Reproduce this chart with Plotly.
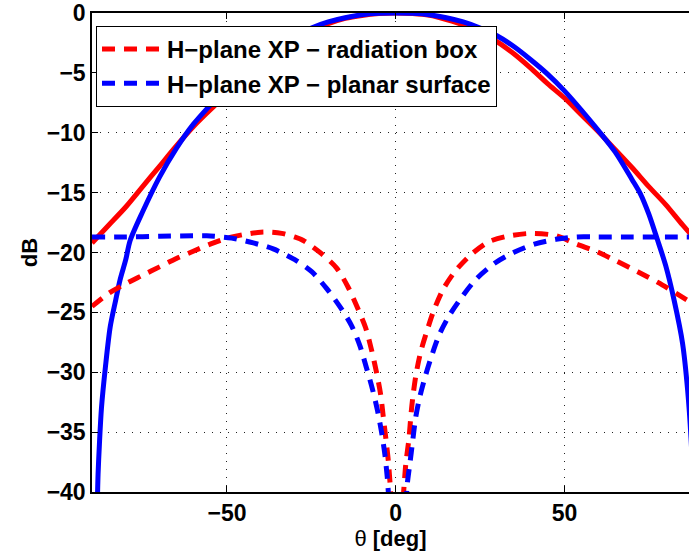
import plotly.graph_objects as go

# Co-polar H-plane cuts (solid lines)
theta_co_box = [-90, -85, -80, -75, -70, -65, -60, -55, -50, -45, -40, -35, -30, -25,
                -20, -15, -10, -5, 0, 5, 10, 15, 20, 25, 30, 35, 40, 45, 50, 55, 60,
                65, 70, 75, 80, 85, 90]
db_co_box = [-19.2, -17.7, -16.2, -14.5, -12.8, -11.1, -9.5, -8.1, -6.8, -5.6, -4.4,
             -3.3, -2.3, -1.5, -0.9, -0.45, -0.2, -0.05, 0.0, -0.05, -0.2, -0.55, -1.0,
             -1.7, -2.4, -3.4, -4.6, -5.9, -7.1, -8.5, -9.9, -11.4, -12.9, -14.5, -16.0,
             -17.7, -19.3]

theta_co_planar = [-88.5, -88.2, -87.8, -87.2, -86, -84.6, -83, -81.7, -80, -78.7, -75,
                   -70, -65, -60, -55, -50, -45, -40, -35, -30, -25, -20, -15, -10, -5,
                   0, 5, 10, 15, 20, 25, 30, 35, 40, 45, 50, 55, 60, 65, 70, 72.5, 75,
                   77.5, 80, 82.5, 85, 86.5, 87.5, 88.5]
db_co_planar = [-42, -38.5, -36, -33, -29.5, -26.2, -24, -22.3, -20.6, -19.0, -16.6,
                -13.7, -11.3, -9.3, -7.7, -6.2, -4.9, -3.7, -2.7, -1.9, -1.25, -0.75,
                -0.4, -0.15, -0.03, 0.0, -0.03, -0.15, -0.4, -0.75, -1.25, -1.9, -2.8,
                -3.9, -5.1, -6.5, -8.1, -9.8, -11.6, -13.9, -15.1, -16.8, -18.9, -21.1,
                -24.0, -27.6, -31.5, -35.5, -42]

# Cross-polar H-plane cuts (dashed lines)
theta_xp_box = [-90, -85, -80, -75, -70, -65, -60, -55, -50, -45, -40, -37, -33.8, -30,
                -27.4, -22, -17.5, -14.1, -11.2, -8.9, -7.2, -5.7, -4.5, -3.7, -2.9,
                -2.2, -1.7, -1.3, 0.4, 2.1, 2.5, 3.0, 3.9, 4.6, 5.1, 6.0, 7.4, 9.2, 11.2,
                14, 17.5, 22.2, 27.6, 33.8, 40.5, 47.5, 53.5, 59.4, 65.3, 71.7, 77.7,
                83.6, 90]
db_xp_box = [-24.5, -23.4, -22.6, -21.9, -21.2, -20.5, -19.9, -19.3, -18.8, -18.5, -18.3,
             -18.3, -18.4, -18.7, -19.0, -20.1, -21.3, -22.9, -24.7, -26.3, -28.1, -30.0,
             -31.8, -33.7, -35.6, -37.4, -39.2, -41.0, -55.0, -41.0, -39.4, -37.6, -35.6,
             -33.3, -32.0, -30.2, -28.3, -26.6, -24.9, -23.1, -21.6, -20.2, -19.1, -18.6,
             -18.4, -18.6, -19.3, -19.9, -20.7, -21.6, -22.5, -23.5, -24.6]

theta_xp_planar = [-90, -80, -70, -60, -56, -48.6, -42.2, -36.3, -29.9, -24.9, -20.5,
                   -16.6, -13.1, -10.6, -8.7, -6.9, -5.4, -4.2, -3.2, -2.5, -2.2, -1.8,
                   0.6, 3.0, 3.4, 4.2, 5.0, 5.9, 7.1, 8.8, 10.8, 13, 16, 19.9, 23.9, 29.3,
                   34.9, 41.1, 47.5, 53.6, 60, 70, 80, 90]
db_xp_planar = [-18.7, -18.7, -18.65, -18.6, -18.6, -18.8, -19.2, -19.7, -20.6, -21.6,
                -23.0, -24.5, -26.1, -27.8, -29.6, -31.4, -33.2, -35.0, -36.9, -38.8,
                -40.0, -42.0, -55.0, -41.5, -39.4, -37.6, -35.8, -33.8, -32.1, -30.3,
                -28.5, -26.8, -25.2, -23.6, -22.2, -20.9, -20.0, -19.3, -18.9, -18.7,
                -18.7, -18.7, -18.7, -18.7]

legend_names = ["H\u2212plane XP \u2212 radiation box",
                "H\u2212plane XP \u2212 planar surface"]
x_ticks = [-50, 0, 50]
x_tick_text = ["\u221250", "0", "50"]
y_ticks = [0, -5, -10, -15, -20, -25, -30, -35, -40]
y_tick_text = ["0", "\u22125", "\u221210", "\u221215", "\u221220", "\u221225",
               "\u221230", "\u221235", "\u221240"]

RED = "#ff0000"
BLUE = "#0000ff"
FONT = "Liberation Sans"
LW = 5
DASH = "13px,9px"


def bold(labels):
    return ["<b>%s</b>" % s for s in labels]


fig = go.Figure()

fig.add_trace(go.Scatter(x=theta_co_box, y=db_co_box, mode="lines",
                         line=dict(color=RED, width=LW, shape="spline", smoothing=0.8),
                         showlegend=False))
fig.add_trace(go.Scatter(x=theta_co_planar, y=db_co_planar, mode="lines",
                         line=dict(color=BLUE, width=LW, shape="spline", smoothing=0.8),
                         showlegend=False))
fig.add_trace(go.Scatter(x=theta_xp_box, y=db_xp_box, mode="lines",
                         name="<b>%s</b>" % legend_names[0],
                         line=dict(color=RED, width=LW, dash=DASH, shape="spline",
                                   smoothing=0.8)))
fig.add_trace(go.Scatter(x=theta_xp_planar, y=db_xp_planar, mode="lines",
                         name="<b>%s</b>" % legend_names[1],
                         line=dict(color=BLUE, width=LW, dash=DASH, shape="spline",
                                   smoothing=0.8)))

axis_common = dict(
    showline=True, linecolor="black", linewidth=1.5,
    showgrid=True, gridcolor="#222222", gridwidth=1, griddash="1px,7px",
    zeroline=False, ticks="inside", ticklen=6, tickcolor="black", tickwidth=1,
    tickfont=dict(family=FONT, size=23, color="black"),
)

fig.update_xaxes(range=[-90, 86.9], tickvals=x_ticks, ticktext=bold(x_tick_text),
                 mirror="ticks",
                 title=dict(text="\u03b8 <b>[deg]</b>", standoff=3,
                            font=dict(family=FONT, size=22, color="black")),
                 **axis_common)
fig.update_yaxes(range=[-40, 0], tickvals=y_ticks, ticktext=bold(y_tick_text),
                 mirror=False,
                 title=dict(text="<b>dB</b>", standoff=3,
                            font=dict(family=FONT, size=22, color="black")),
                 **axis_common)

fig.update_layout(
    width=689, height=555,
    margin=dict(l=92, r=0, t=13, b=63),
    paper_bgcolor="white", plot_bgcolor="white",
    showlegend=True,
    legend=dict(x=0.0067, y=0.9729, xanchor="left", yanchor="top",
                bgcolor="white", bordercolor="black", borderwidth=1,
                font=dict(family=FONT, size=24, color="black"),
                itemwidth=60, entrywidth=330, entrywidthmode="pixels"),
)

fig.write_html("out.html")
